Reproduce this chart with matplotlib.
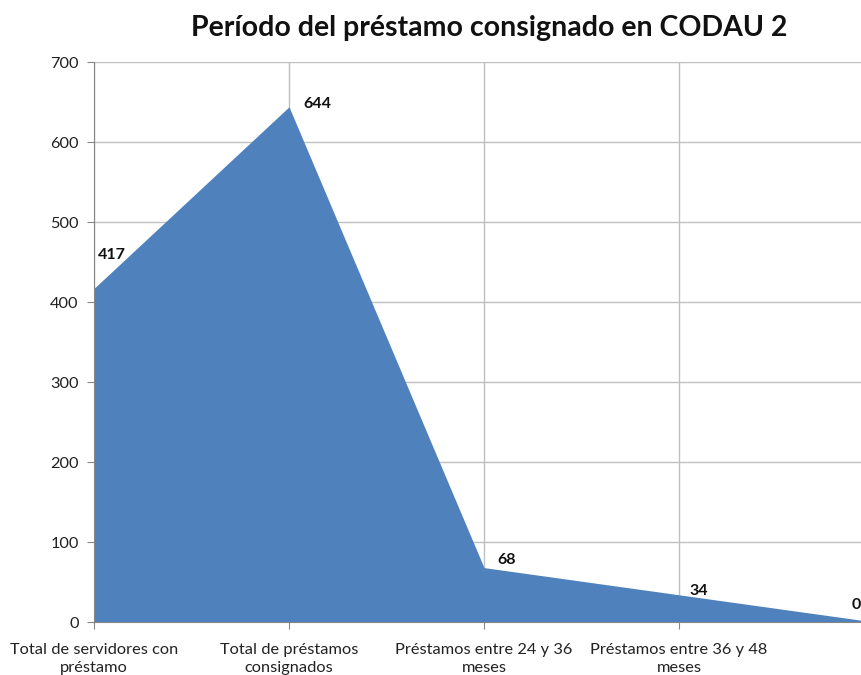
import matplotlib
matplotlib.use("Agg")
import matplotlib.pyplot as plt

categories = ["Total de servidores con\npréstamo", "Total de préstamos\nconsignados",
              "Préstamos entre 24 y 36\nmeses", "Préstamos entre 36 y 48\nmeses", ""]
values = [417, 644, 68, 34, 0]
label_offsets = [(4, 33), (14, 3), (13, 8), (10, 4), (-22, 17)]

plt.rcParams['font.family'] = ['Lato', 'DejaVu Sans']

fig = plt.figure(figsize=(8.61, 6.75), dpi=100)
W, H = 861, 675
x0, x1, ytop, ybot = 94, 874, 62, 622
ax = fig.add_axes([x0 / W, 1 - ybot / H, (x1 - x0) / W, (ybot - ytop) / H])

xs = list(range(len(values)))
ax.fill_between(xs, values, 0, color="#4F81BD", linewidth=0, zorder=3)
ax.set_xlim(0, len(values) - 1)
ax.set_ylim(0, 700)
ax.set_yticks(range(0, 701, 100))
ax.set_xticks(xs)
ax.set_xticklabels(categories, fontsize=11.8, color="#222222", linespacing=1.4)
ax.tick_params(axis='y', labelsize=11.8, colors="#222222", length=5, color="#868686", pad=6)
ax.tick_params(axis='x', length=5, color="#868686", pad=10)
ax.grid(True, color="#BFBFBF", linewidth=1, zorder=0)
ax.set_axisbelow(True)
for s in ["top", "right"]:
    ax.spines[s].set_visible(False)
for s in ["left", "bottom"]:
    ax.spines[s].set_color("#868686")
    ax.spines[s].set_zorder(4)

for x, v, (dx, dy) in zip(xs, values, label_offsets):
    ax.annotate(str(v), (x, v), xytext=(dx * 0.72, dy * 0.72), textcoords="offset points",
                ha="left", va="center", fontsize=11.5, fontweight="bold", color="#111111",
                annotation_clip=False, zorder=5)

fig.text(489 / W, 1 - 28 / H, "Período del préstamo consignado en CODAU 2",
         ha="center", va="center", fontsize=20.5, fontweight="bold", color="#111111")

fig.savefig("out.png", dpi=100)
